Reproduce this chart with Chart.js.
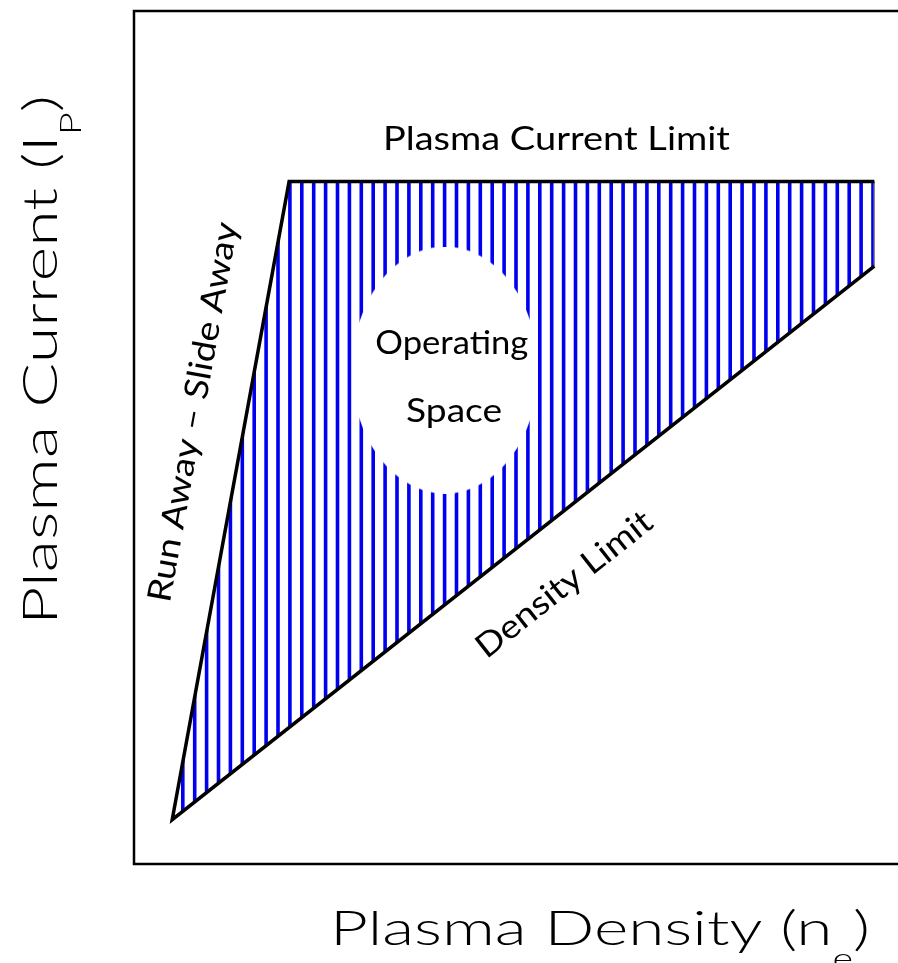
<!DOCTYPE html>
<html>
<head>
<meta charset="utf-8">
<title>Plasma operating space</title>
<script src="https://cdn.jsdelivr.net/npm/chart.js@4.4.1/dist/chart.umd.min.js"></script>
<style>
  html, body { margin: 0; padding: 0; background: #fff; overflow: hidden; }
  #wrap { width: 898px; height: 963px; }
</style>
</head>
<body>
<div id="wrap"><canvas id="myChart" width="898" height="963"></canvas></div>
<script>
'use strict';

// operating region, arbitrary units (both axes 0..10)
let regionX = [0.5, 2.03, 9.69, 9.69];
let regionY = [0.52, 8.0, 8.0, 7.01];

// black limits: current limit, run away edge, density limit
let limitX = [9.69, 2.03, 0.5, 9.69];
let limitY = [8.0, 8.0, 0.52, 7.01];

// the clear "operating space" in the middle
let holeX = [4.07];
let holeY = [5.79];
let holeHalfW = 1.22;
let holeHalfH = 1.45;

let hatchStart = 0.64;   // x of the first hatch line
let hatchStep = 11.9;    // px between hatch lines

let xTitle = ['Plasma Density (n', 'e', ')'];
let yTitle = ['Plasma Current (I', 'P', ')'];

let notes = [
    { text: 'Plasma Current Limit', x: 5.53, y: 8.51, angle: 0, width: 347 },
    { text: 'Operating', x: 4.16, y: 6.12, angle: 0, width: 153 },
    { text: 'Space', x: 4.19, y: 5.32, angle: 0, width: 96 },
    { text: 'Run Away \u2013 Slide Away', x: 0.76, y: 5.30, angle: -79.8, width: 385 },
    { text: 'Density Limit', x: 5.62, y: 3.29, angle: -38.3, width: 215 }
];

let FONT = 'Lato, "DejaVu Sans", sans-serif';

function toPoints(xs, ys) {
    let pts = [];
    for (let i = 0; i < xs.length; i++) {
        pts.push({ x: xs[i], y: ys[i] });
    }
    return pts;
}

let hatchCache = null;
function hatchFill(context) {
    let chart = context.chart;
    let xs = chart.scales.x;
    if (!xs) return 'rgba(0,0,0,0)';
    let x0 = Math.round(xs.getPixelForValue(hatchStart) - 1.8);
    if (hatchCache && hatchCache.x0 === x0) return hatchCache.pattern;
    // ten stripes per tile so the odd step needs no scaling
    let tile = document.createElement('canvas');
    tile.width = Math.round(hatchStep * 10);
    tile.height = 4;
    let t = tile.getContext('2d');
    t.fillStyle = '#0000ee';
    for (let k = 0; k < 10; k++) {
        t.fillRect(k * hatchStep, 0, 3.6, 4);
    }
    let pattern = chart.ctx.createPattern(tile, 'repeat');
    pattern.setTransform(new DOMMatrix().translate(x0, 0));
    hatchCache = { x0: x0, pattern: pattern };
    return pattern;
}

let holeCache = null;
function holeStyle(context) {
    let chart = context.chart;
    let xs = chart.scales.x, ys = chart.scales.y;
    if (!xs || !ys) return 'circle';
    let w = Math.round(Math.abs(xs.getPixelForValue(holeHalfW) - xs.getPixelForValue(0)) * 2);
    let h = Math.round(Math.abs(ys.getPixelForValue(holeHalfH) - ys.getPixelForValue(0)) * 2);
    if (holeCache && holeCache.width === w && holeCache.height === h) return holeCache;
    let c = document.createElement('canvas');
    c.width = w;
    c.height = h;
    let g = c.getContext('2d');
    g.fillStyle = '#ffffff';
    g.beginPath();
    g.ellipse(w / 2, h / 2, w / 2, h / 2, 0, 0, Math.PI * 2);
    g.fill();
    holeCache = c;
    return c;
}

// text squeezed/stretched to a width; parts = [text, relative size, drop]
function drawText(ctx, parts, cx, cy, angle, width, size, weight) {
    ctx.save();
    ctx.translate(cx, cy);
    ctx.rotate(angle * Math.PI / 180);
    let total = 0;
    parts.forEach(function (p) {
        ctx.font = weight + ' ' + (size * p[1]) + 'px ' + FONT;
        total += ctx.measureText(p[0]).width;
    });
    ctx.font = weight + ' ' + size + 'px ' + FONT;
    let cap = ctx.measureText('H').actualBoundingBoxAscent;
    ctx.scale(width / total, 1);
    ctx.fillStyle = '#000';
    ctx.textAlign = 'left';
    ctx.textBaseline = 'alphabetic';
    let x = -total / 2;
    parts.forEach(function (p) {
        ctx.font = weight + ' ' + (size * p[1]) + 'px ' + FONT;
        ctx.fillText(p[0], x, cap / 2 + p[2] * size);
        x += ctx.measureText(p[0]).width;
    });
    ctx.restore();
}

let framePlugin = {
    id: 'frame',
    beforeDatasetsDraw(chart) {
        let ctx = chart.ctx;
        let a = chart.chartArea;
        ctx.save();
        ctx.strokeStyle = '#000';
        ctx.lineWidth = 2.5;
        ctx.lineJoin = 'miter';
        ctx.beginPath();
        ctx.moveTo(a.right + 5, a.top);
        ctx.lineTo(a.left, a.top);
        ctx.lineTo(a.left, a.bottom);
        ctx.lineTo(a.right + 5, a.bottom);
        ctx.stroke();
        ctx.restore();
    },
    afterDraw(chart) {
        let ctx = chart.ctx;
        let xs = chart.scales.x, ys = chart.scales.y;
        notes.forEach(function (n) {
            drawText(ctx, [[n.text, 1, 0]], xs.getPixelForValue(n.x), ys.getPixelForValue(n.y),
                n.angle, n.width, 33, 400);
        });
        drawText(ctx, [[xTitle[0], 1, 0], [xTitle[1], 0.6, 0.5], [xTitle[2], 1, 0]],
            600, 928, 0, 540, 48, 300);
        drawText(ctx, [[yTitle[0], 1, 0], [yTitle[1], 0.6, 0.5], [yTitle[2], 1, 0]],
            40, 360, -90, 530, 48, 300);
    }
};

let ctx = document.getElementById('myChart').getContext('2d');
let chart = new Chart(ctx, {
    type: 'scatter',
    data: {
        datasets: [{
            // limits in black, on top
            data: toPoints(limitX, limitY),
            showLine: true,
            borderColor: '#000',
            borderWidth: 3.5,
            pointRadius: 0,
            fill: false,
            order: 1
        }, {
            // clear operating space
            data: toPoints(holeX, holeY),
            pointStyle: holeStyle,
            pointRadius: 10,
            showLine: false,
            order: 2
        }, {
            // hatched region
            data: toPoints(regionX, regionY),
            showLine: true,
            borderColor: '#8a8a8a',
            borderWidth: 1,
            backgroundColor: hatchFill,
            fill: 'shape',
            pointRadius: 0,
            order: 3
        }]
    },
    options: {
        responsive: false,
        animation: false,
        events: [],
        layout: { autoPadding: false, padding: { left: 134, top: 11, right: 0, bottom: 99 } },
        scales: {
            x: { type: 'linear', min: 0, max: 10, display: false },
            y: { type: 'linear', min: 0, max: 10, display: false }
        },
        plugins: {
            legend: { display: false },
            tooltip: { enabled: false }
        }
    },
    plugins: [framePlugin]
});
</script>
</body>
</html>
